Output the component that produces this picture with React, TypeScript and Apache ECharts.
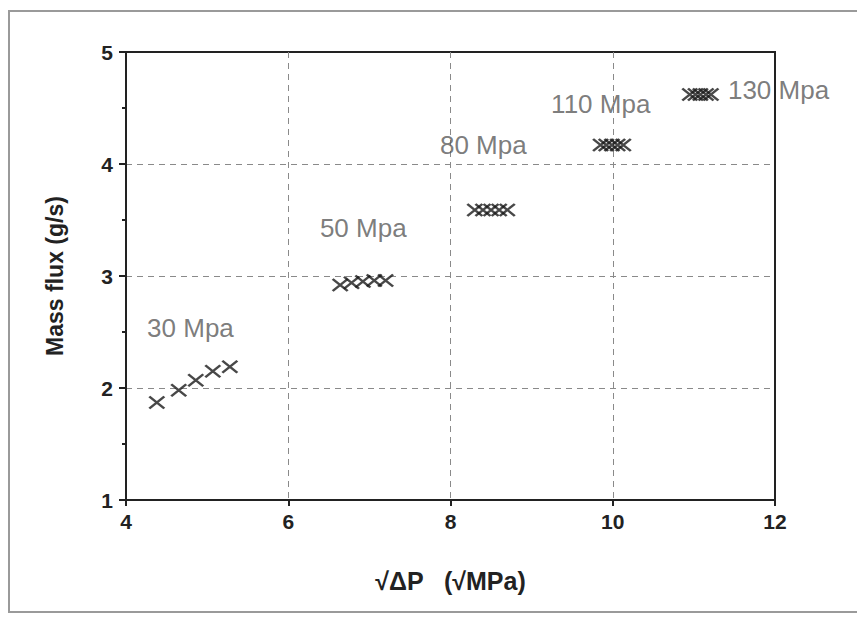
import React, { useEffect, useRef } from "react";
import * as echarts from "echarts";

const xTicks = [4, 6, 8, 10, 12];
const yTicks = [1, 2, 3, 4, 5];

const x30 = [4.38, 4.65, 4.86, 5.07, 5.28];
const y30 = [1.87, 1.98, 2.07, 2.15, 2.19];
const x50 = [6.64, 6.78, 6.92, 7.06, 7.2];
const y50 = [2.92, 2.94, 2.95, 2.96, 2.96];
const x80 = [8.3, 8.4, 8.5, 8.6, 8.7];
const y80 = [3.59, 3.59, 3.59, 3.59, 3.59];
const x110 = [9.85, 9.92, 9.99, 10.06, 10.13];
const y110 = [4.17, 4.17, 4.17, 4.17, 4.17];
const x130 = [10.95, 11.02, 11.08, 11.15, 11.21];
const y130 = [4.62, 4.62, 4.62, 4.62, 4.62];

const labelTexts = ["30 Mpa", "50 Mpa", "80 Mpa", "110 Mpa", "130 Mpa"];
const labelX = [4.26, 6.39, 7.87, 9.24, 11.42];
const labelY = [2.54, 3.43, 4.17, 4.54, 4.66];

const zip = (xs: number[], ys: number[]) => xs.map((x, i) => [x, ys[i]]);

export default function App() {
  const ref = useRef<HTMLDivElement>(null);
  useEffect(() => {
    document.body.style.margin = "0";
    const chart = echarts.init(ref.current!, null, { renderer: "svg" });
    const crossSeries = [
      zip(x30, y30),
      zip(x50, y50),
      zip(x80, y80),
      zip(x110, y110),
      zip(x130, y130),
    ].map((d) => ({
      type: "scatter",
      data: d,
      symbol: "path://M0,0L10,10M10,0L0,10",
      symbolSize: [15, 12],
      itemStyle: { color: "transparent", borderColor: "#1a1a1a", borderWidth: 2.4 },
      z: 5,
    }));
    const split = {
      show: true,
      showMinLine: false,
      showMaxLine: false,
      lineStyle: { color: "#8a8a8a", type: [6, 5], width: 1 },
    };
    chart.setOption({
      animation: false,
      backgroundColor: "#fff",
      graphic: [
        {
          type: "rect",
          shape: { x: 9, y: 11, width: 900, height: 601 },
          style: { fill: "none", stroke: "#9a9a9a", lineWidth: 2 },
          silent: true,
        },
      ],
      grid: {
        left: 126,
        top: 52,
        width: 649,
        height: 448,
        show: true,
        borderColor: "#222",
        borderWidth: 2,
        backgroundColor: "transparent",
      },
      xAxis: {
        type: "value",
        min: 4,
        max: 12,
        interval: 2,
        name: "√ΔP   (√MPa)",
        nameLocation: "middle",
        nameGap: 68,
        nameTextStyle: { fontFamily: "Liberation Sans", fontWeight: "bold", fontSize: 25, color: "#222" },
        axisLine: { show: true, lineStyle: { color: "#222", width: 2 } },
        axisTick: { show: true, inside: false, length: 6, lineStyle: { color: "#222", width: 2 } },
        axisLabel: { fontFamily: "Liberation Sans", fontWeight: "bold", fontSize: 21, color: "#222", margin: 11 },
        splitLine: split,
      },
      yAxis: {
        type: "value",
        min: 1,
        max: 5,
        interval: 1,
        name: "Mass flux (g/s)",
        nameLocation: "middle",
        nameGap: 60,
        nameTextStyle: { fontFamily: "Liberation Sans", fontWeight: "bold", fontSize: 23, color: "#222" },
        axisLine: { show: true, lineStyle: { color: "#222", width: 2 } },
        axisTick: { show: true, inside: false, length: 7, lineStyle: { color: "#222", width: 2 } },
        minorTick: { show: true, splitNumber: 2, length: 4, lineStyle: { color: "#222", width: 2 } },
        axisLabel: { fontFamily: "Liberation Sans", fontWeight: "bold", fontSize: 21, color: "#222", margin: 13 },
        splitLine: split,
      },
      series: [
        ...crossSeries,
        {
          type: "scatter",
          data: labelX.map((x, i) => ({ value: [x, labelY[i]], name: labelTexts[i] })),
          symbolSize: 0,
          silent: true,
          label: {
            show: true,
            position: "right",
            distance: 0,
            formatter: (p: any) => p.name,
            fontFamily: "Liberation Sans",
            fontSize: 26,
            color: "#5a5a5a",
          },
          z: 6,
        },
      ],
    });
    return () => chart.dispose();
  }, []);
  return <div ref={ref} style={{ width: 857, height: 618 }} />;
}
